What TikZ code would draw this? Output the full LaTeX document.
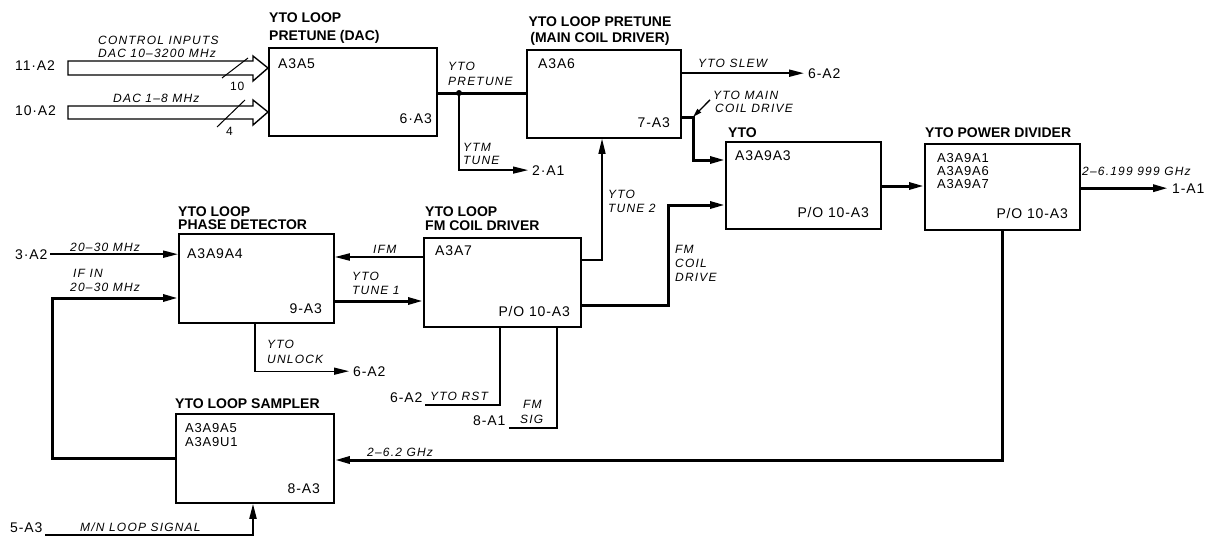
\documentclass[tikz,border=0pt]{standalone}
\usepackage{fontspec}
\setmainfont{Liberation Sans}
\newfontfamily\prtfam{Liberation Sans}[LetterSpace=6]
\newfontfamily\lblfam{Liberation Sans}[LetterSpace=10]
\usetikzlibrary{arrows.meta}
\newcommand{\ttlfont}{\fontsize{14}{17}\selectfont\bfseries}
\newcommand{\prtfont}{\prtfam\fontsize{14}{17}\selectfont}
\newcommand{\prtsfont}{\prtfam\fontsize{13}{15}\selectfont}
\newcommand{\lblfont}{\lblfam\itshape\fontsize{12}{14}\selectfont}
\newcommand{\smlfont}{\prtfam\fontsize{12}{14}\selectfont}
\begin{document}
\begin{tikzpicture}[x=1pt,y=-1pt,
  box/.style={draw, line width=1.8pt, inner sep=0pt, anchor=north west},
  ttl/.style={font=\ttlfont, anchor=base west, inner sep=0pt},
  prt/.style={font=\prtfont, anchor=base west, inner sep=0pt},
  prts/.style={font=\prtsfont, anchor=base west, inner sep=0pt},
  prtr/.style={font=\prtfont, anchor=base east, inner sep=0pt},
  term/.style={font=\prtfont, anchor=base west, inner sep=0pt},
  lbl/.style={font=\lblfont, anchor=base west, inner sep=0pt},
  sml/.style={font=\smlfont, anchor=base west, inner sep=0pt},
  thickw/.style={line width=3pt},
  medw/.style={line width=2pt},
  thinw/.style={line width=1.3pt},
  arr/.style={-{Triangle[length=15pt,width=7pt]}},
  bus/.style={line width=1.4pt, fill=white, line join=miter}
]
\useasboundingbox (0,0) rectangle (1209,546);
\fill[white] (0,0) rectangle (1209,546);

% boxes
\node[box, minimum width=168, minimum height=88] (b1) at (268,47) {};
\node[box, minimum width=154, minimum height=88] (b2) at (526,49) {};
\node[box, minimum width=155, minimum height=87] (yto) at (725,141) {};
\node[box, minimum width=155, minimum height=86] (pd) at (924,143) {};
\node[box, minimum width=155, minimum height=89] (phd) at (178,233) {};
\node[box, minimum width=157, minimum height=89] (fm) at (423,237) {};
\node[box, minimum width=158, minimum height=89] (smp) at (175,413) {};

% titles
\node[ttl] (b1t1) at (269,23) {YTO LOOP};
\node[ttl] (b1t2) at (269,40) {PRETUNE (DAC)};
\node[ttl, anchor=base] (b2t1) at (600,27) {YTO LOOP PRETUNE};
\node[ttl, anchor=base] (b2t2) at (600,42) {(MAIN COIL DRIVER)};
\node[ttl] (ytot) at (728,137) {YTO};
\node[ttl] (pdt) at (925,137) {YTO POWER DIVIDER};
\node[ttl] (phdt1) at (178,216) {YTO LOOP};
\node[ttl] (phdt2) at (178,229) {PHASE DETECTOR};
\node[ttl] (fmt1) at (425,216) {YTO LOOP};
\node[ttl] (fmt2) at (425,230) {FM COIL DRIVER};
\node[ttl] (smpt) at (175,408) {YTO LOOP SAMPLER};

% part texts
\node[prt] (b1p) at (278,68) {A3A5};
\node[prtr] (b1r) at (432,123) {6·A3};
\node[prt] (b2p) at (538,68) {A3A6};
\node[prtr] (b2r) at (670,127) {7-A3};
\node[prt] (ytop) at (735,160) {A3A9A3};
\node[prtr] (ytor) at (869,217) {P/O 10-A3};
\node[prts] (pdp1) at (937,162) {A3A9A1};
\node[prts] (pdp2) at (937,175) {A3A9A6};
\node[prts] (pdp3) at (937,188) {A3A9A7};
\node[prtr] (pdr) at (1068,218) {P/O 10-A3};
\node[prt] (phdp) at (187,258) {A3A9A4};
\node[prtr] (phdr) at (322,313) {9-A3};
\node[prt] (fmp) at (435,255) {A3A7};
\node[prtr] (fmr) at (570,316) {P/O 10-A3};
\node[prts] (smpp1) at (185,432) {A3A9A5};
\node[prts] (smpp2) at (185,446) {A3A9U1};
\node[prtr] (smpr) at (320,493) {8-A3};

% terminals
\node[term] (i11) at (15,70) {11·A2};
\node[term] (i10) at (15,115) {10·A2};
\node[term] (oSlew) at (808,78) {6-A2};
\node[term] (o2A1) at (532,175) {2·A1};
\node[term] (o1A1) at (1172,193) {1-A1};
\node[term] (i3A2) at (15,259) {3·A2};
\node[term] (oUnl) at (353,376) {6-A2};
\node[term] (iRst) at (390,402) {6-A2};
\node[term] (iSig) at (473,425) {8-A1};
\node[term] (i5A3) at (10,532) {5-A3};

% signal labels
\node[lbl] (lCtl1) at (98,44) {CONTROL INPUTS};
\node[lbl] (lCtl2) at (98,57) {DAC 10–3200 MHz};
\node[lbl] (lDac) at (113,102) {DAC 1–8 MHz};
\node[sml] (n10) at (230,90) {10};
\node[sml] (n4) at (226,135) {4};
\node[lbl] (lPre1) at (448,70) {YTO};
\node[lbl] (lPre2) at (448,85) {PRETUNE};
\node[lbl] (lYtm1) at (463,151) {YTM};
\node[lbl] (lYtm2) at (463,164) {TUNE};
\node[lbl] (lSlew) at (698,67) {YTO SLEW};
\node[lbl] (lMain1) at (713,99) {YTO MAIN};
\node[lbl] (lMain2) at (715,112) {COIL DRIVE};
\node[lbl] (lOut) at (1082,175) {2–6.199 999 GHz};
\node[lbl] (l3A2) at (70,251) {20–30 MHz};
\node[lbl] (lIf1) at (73,277) {IF IN};
\node[lbl] (lIf2) at (70,291) {20–30 MHz};
\node[lbl] (lIfm) at (373,253) {IFM};
\node[lbl] (lT1a) at (352,280) {YTO};
\node[lbl] (lT1b) at (352,294) {TUNE 1};
\node[lbl] (lUn1) at (267,348) {YTO};
\node[lbl] (lUn2) at (267,363) {UNLOCK};
\node[lbl] (lT2a) at (608,198) {YTO};
\node[lbl] (lT2b) at (608,212) {TUNE 2};
\node[lbl] (lFm1) at (675,253) {FM};
\node[lbl] (lFm2) at (675,267) {COIL};
\node[lbl] (lFm3) at (675,281) {DRIVE};
\node[lbl] (lRst) at (430,400) {YTO RST};
\node[lbl] (lSig1) at (523,408) {FM};
\node[lbl] (lSig2) at (520,423) {SIG};
\node[lbl] (lGhz) at (367,456) {2–6.2 GHz};
\node[lbl] (lMn) at (80,531) {M/N LOOP SIGNAL};

% coordinates
\coordinate (jp) at (459,93);
\coordinate (c7) at (693,117);
\coordinate (c7b) at (693,160);
\coordinate (cyp) at (900,186);
\coordinate (cps) at (600,460);
\coordinate (cif) at (52,298);
\coordinate (cifm) at (380,257);
\coordinate (ct1) at (380,301);
\coordinate (cu) at (255,370);
\coordinate (ct2) at (602,260);
\coordinate (cfa) at (668,305);
\coordinate (cfb) at (668,205);
\coordinate (cr) at (500,405);
\coordinate (cs) at (557,428);
\coordinate (cm) at (253,535);

% bus inputs
\draw[bus] (68,61) -- (253,61) -- (253,56) -- (b1.west |- 0,68) -- (253,81) -- (253,75) -- (68,75) -- cycle;
\draw[line width=1pt] (222,78) -- (248,58);
\draw[bus] (68,106) -- (253,106) -- (253,100) -- (b1.west |- 0,112) -- (253,125) -- (253,119) -- (68,119) -- cycle;
\draw[line width=1pt] (217,127) -- (245,100);

% connectors
\draw[thickw] (b1.east |- b2.west) -- (b2.west);
\fill (jp) circle[radius=3pt];
\draw[thinw, arr, shorten >=4pt] (jp) |- (o2A1.west);
\draw[medw, arr, shorten >=4pt] (b2.east |- oSlew.west) -- (oSlew.west);
\draw[thickw, arr] (b2.east |- c7) -- (c7) -- (c7b) -- (yto.west |- c7b);
\draw[thinw, -{Triangle[length=9pt,width=5pt]}] ([shift={(-3pt,-5pt)}]lMain1.west) -- (c7);
\draw[thickw, arr] (yto.east |- cyp) -- (pd.west |- cyp);
\draw[thickw, arr, shorten >=4pt] (pd.east |- o1A1.west) -- (o1A1.west);
\draw[thickw, arr] (pd.south) |- (smp.east |- cps);
\draw[medw, arr, shorten <=3pt] (i3A2.east) -- (phd.west |- i3A2.east);
\draw[thickw, arr] (smp.west) -| (cif) -- (phd.west |- cif);
\draw[medw, arr] (fm.west |- cifm) -- (phd.east |- cifm);
\draw[thickw, arr] (phd.east |- ct1) -- (fm.west |- ct1);
\draw[thinw, arr, shorten >=4pt] (phd.south -| cu) |- (oUnl.west);
\draw[thinw, arr] (fm.east |- ct2) -- (ct2) -- (b2.south -| ct2);
\draw[thickw, arr] (fm.east |- cfa) -- (cfa) -- (cfb) -- (yto.west |- cfb);
\draw[thinw, shorten >=3pt] (fm.south -| cr) -- (cr) -- (iRst.east |- cr);
\draw[thinw, shorten >=3pt] (fm.south -| cs) -- (cs) -- (iSig.east |- cs);
\draw[medw, arr, shorten <=3pt] (i5A3.east |- cm) -- (cm) -- (smp.south -| cm);
\end{tikzpicture}
\end{document}
